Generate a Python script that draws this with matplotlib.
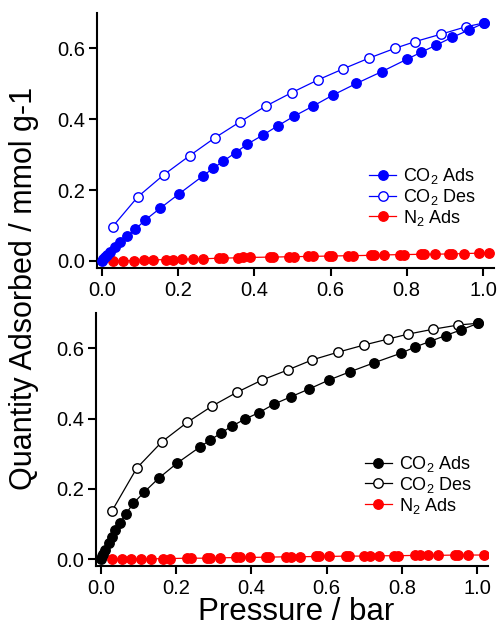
import matplotlib
matplotlib.use("Agg")
import matplotlib.pyplot as plt

plt.rcParams['font.family'] = ['Liberation Sans', 'DejaVu Sans']
plt.rcParams['mathtext.fontset'] = 'custom'
plt.rcParams['mathtext.rm'] = 'Liberation Sans'
plt.rcParams['mathtext.it'] = 'Liberation Sans'

# ---------------- Top panel data ----------------
top_ads_x = [0.0, 0.004, 0.008, 0.013, 0.021, 0.034, 0.048, 0.065, 0.087, 0.114, 0.153, 0.203,
             0.265, 0.291, 0.319, 0.351, 0.382, 0.422, 0.461, 0.505, 0.554, 0.606, 0.668,
             0.734, 0.800, 0.838, 0.877, 0.919, 0.964, 1.004]
top_ads_y = [0.0, 0.006, 0.012, 0.018, 0.026, 0.040, 0.054, 0.070, 0.089, 0.116, 0.149, 0.190,
             0.240, 0.261, 0.282, 0.306, 0.330, 0.355, 0.381, 0.409, 0.437, 0.468, 0.501,
             0.534, 0.569, 0.589, 0.609, 0.631, 0.652, 0.672]
top_des_x = [0.028, 0.094, 0.162, 0.230, 0.297, 0.363, 0.430, 0.498, 0.567, 0.633, 0.700,
             0.769, 0.822, 0.890, 0.956, 1.004]
top_des_y = [0.097, 0.181, 0.243, 0.297, 0.348, 0.393, 0.437, 0.475, 0.511, 0.542, 0.572,
             0.600, 0.619, 0.640, 0.661, 0.672]
top_n2_x = [0.028, 0.056, 0.083, 0.111, 0.133, 0.168, 0.187, 0.211, 0.239, 0.265, 0.307,
            0.318, 0.356, 0.369, 0.389, 0.441, 0.450, 0.490, 0.503, 0.542, 0.555, 0.595,
            0.604, 0.647, 0.660, 0.705, 0.715, 0.739, 0.781, 0.794, 0.837, 0.846, 0.873,
            0.911, 0.920, 0.950, 0.990, 1.016]
top_n2_y = [0.000, 0.001, 0.001, 0.002, 0.003, 0.004, 0.004, 0.005, 0.006, 0.006, 0.008,
            0.008, 0.009, 0.010, 0.010, 0.011, 0.011, 0.012, 0.012, 0.013, 0.013, 0.014,
            0.014, 0.015, 0.015, 0.016, 0.016, 0.017, 0.018, 0.018, 0.019, 0.019, 0.019,
            0.020, 0.020, 0.021, 0.022, 0.022]

# ---------------- Bottom panel data ----------------
bot_ads_x = [0.0, 0.003, 0.006, 0.011, 0.020, 0.029, 0.037, 0.051, 0.066, 0.086, 0.115, 0.153,
             0.202, 0.264, 0.289, 0.318, 0.347, 0.382, 0.420, 0.460, 0.505, 0.553, 0.607,
             0.662, 0.727, 0.798, 0.834, 0.874, 0.916, 0.957, 1.003]
bot_ads_y = [0.0, 0.008, 0.016, 0.026, 0.045, 0.064, 0.083, 0.104, 0.129, 0.159, 0.191, 0.230,
             0.273, 0.320, 0.338, 0.358, 0.378, 0.398, 0.417, 0.441, 0.462, 0.484, 0.510,
             0.533, 0.559, 0.586, 0.603, 0.619, 0.636, 0.652, 0.671]
bot_des_x = [0.029, 0.095, 0.162, 0.229, 0.296, 0.362, 0.429, 0.496, 0.562, 0.631, 0.699,
             0.763, 0.816, 0.883, 0.950, 1.003]
bot_des_y = [0.137, 0.259, 0.334, 0.389, 0.436, 0.475, 0.510, 0.538, 0.567, 0.589, 0.609,
             0.626, 0.640, 0.654, 0.666, 0.671]
bot_n2_x = [0.029, 0.057, 0.080, 0.106, 0.133, 0.166, 0.184, 0.229, 0.238, 0.282, 0.291,
            0.316, 0.360, 0.369, 0.395, 0.438, 0.447, 0.491, 0.505, 0.529, 0.571, 0.580,
            0.607, 0.651, 0.660, 0.700, 0.714, 0.738, 0.780, 0.789, 0.834, 0.847, 0.869,
            0.896, 0.940, 0.950, 0.976, 1.018]
bot_n2_y = [0.000, 0.000, 0.001, 0.001, 0.001, 0.002, 0.002, 0.003, 0.003, 0.003, 0.004,
            0.004, 0.005, 0.005, 0.005, 0.006, 0.006, 0.007, 0.007, 0.007, 0.008, 0.008,
            0.008, 0.009, 0.009, 0.009, 0.010, 0.010, 0.010, 0.010, 0.011, 0.011, 0.011,
            0.011, 0.012, 0.012, 0.012, 0.012]

labels = ['CO$_2$ Ads', 'CO$_2$ Des', 'N$_2$ Ads']
xticks = [0.0, 0.2, 0.4, 0.6, 0.8, 1.0]
xticklabels = ['0.0', '0.2', '0.4', '0.6', '0.8', '1.0']
yticks = [0.0, 0.2, 0.4, 0.6]
yticklabels = ['0.0', '0.2', '0.4', '0.6']

fig = plt.figure(figsize=(5.01, 6.29), dpi=100)
ax1 = fig.add_axes([0.1944, 0.5738, 0.7916, 0.4057])
ax2 = fig.add_axes([0.1926, 0.0997, 0.7822, 0.4026])

ms = 6.8
lw = 0.9


def draw(ax, ax_x, ax_y, des_x, des_y, n2_x, n2_y, col, xmax, leg_y):
    ax.plot(n2_x, n2_y, '-o', color='#FF0000', ms=ms, lw=lw, mec='#FF0000', label=labels[2], zorder=2)
    ax.plot(des_x, des_y, '-o', color=col, ms=ms, lw=lw, mfc='white', mec=col, mew=1.0,
            label=labels[1], zorder=3)
    ax.plot(ax_x, ax_y, '-o', color=col, ms=ms, lw=lw, mec=col, label=labels[0], zorder=4)
    ax.set_xlim(-0.012, xmax)
    ax.set_ylim(-0.02, 0.70)
    ax.set_xticks(xticks)
    ax.set_xticklabels(xticklabels)
    ax.set_yticks(yticks)
    ax.set_yticklabels(yticklabels)
    for s in ['top', 'right']:
        ax.spines[s].set_visible(False)
    for s in ['left', 'bottom']:
        ax.spines[s].set_linewidth(1.5)
    ax.tick_params(axis='both', direction='out', length=6, width=1.5, labelsize=14.5, pad=3)
    h, l = ax.get_legend_handles_labels()
    order = [2, 1, 0]
    leg = ax.legend([h[i] for i in order], [l[i] for i in order], loc='upper left',
                    bbox_to_anchor=(0.685, leg_y), frameon=False, fontsize=13,
                    handlelength=1.5, handletextpad=0.4, labelspacing=0.05,
                    borderpad=0, borderaxespad=0, numpoints=1)
    return leg


draw(ax1, top_ads_x, top_ads_y, top_des_x, top_des_y, top_n2_x, top_n2_y, '#0000FF', 1.029, 0.400)
draw(ax2, bot_ads_x, bot_ads_y, bot_des_x, bot_des_y, bot_n2_x, bot_n2_y, 'black', 1.03, 0.444)

fig.text(0.047, 0.542, 'Quantity Adsorbed / mmol g-1', rotation=90, fontsize=22,
         ha='center', va='center')
fig.text(0.592, 0.003, 'Pressure / bar', fontsize=22.5, ha='center', va='bottom')

fig.savefig('out.png', dpi=100)
